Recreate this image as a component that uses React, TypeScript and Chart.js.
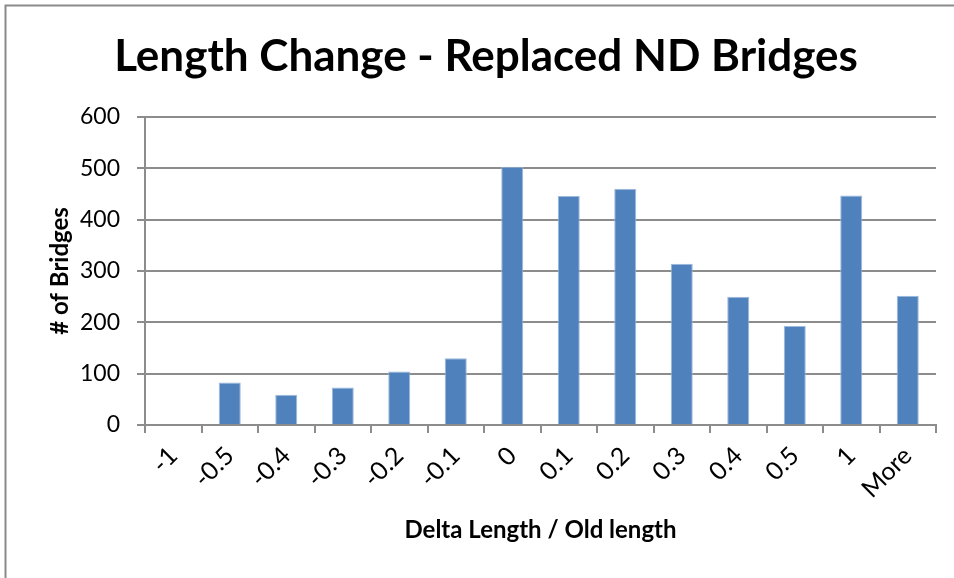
import React, { useEffect, useRef } from "react";
import { Chart, registerables } from "chart.js";

Chart.register(...registerables);

const categories = ["-1", "-0.5", "-0.4", "-0.3", "-0.2", "-0.1", "0", "0.1", "0.2", "0.3", "0.4", "0.5", "1", "More"];
const bridgeCounts = [0, 83, 59, 73, 104, 130, 503, 446, 460, 314, 250, 193, 447, 252];
const yTicks = [0, 100, 200, 300, 400, 500, 600];
const titleText = "Length Change - Replaced ND Bridges";
const xTitle = "Delta Length / Old length";
const yTitle = "# of Bridges";

const FONT = "Lato, 'Open Sans', sans-serif";
const GRID = "#8c8c8c";

const framePlugin = {
  id: "frame",
  beforeDraw(chart: any) {
    const ctx = chart.ctx;
    ctx.save();
    ctx.fillStyle = "#ffffff";
    ctx.fillRect(0, 0, chart.width, chart.height);
    ctx.strokeStyle = "#8a8a8a";
    ctx.lineWidth = 2;
    ctx.beginPath();
    ctx.moveTo(5.5, chart.height + 5);
    ctx.lineTo(5.5, 5.5);
    ctx.lineTo(chart.width + 5, 5.5);
    ctx.stroke();
    ctx.restore();
  },
};

export default function App() {
  const ref = useRef<HTMLCanvasElement>(null);
  useEffect(() => {
    document.body.style.margin = "0";
    const chart = new Chart(ref.current!, {
      type: "bar",
      data: {
        labels: categories,
        datasets: [
          {
            data: bridgeCounts,
            backgroundColor: "#4F81BD",
            borderColor: "#9DB9DC",
            borderWidth: 1,
            barPercentage: 0.39,
            categoryPercentage: 1,
          },
        ],
      },
      options: {
        responsive: false,
        animation: false,
        layout: { padding: { left: 36, right: 18, top: 0, bottom: 0 } },
        plugins: {
          legend: { display: false },
          tooltip: { enabled: false },
          title: {
            display: true,
            text: titleText,
            color: "#000",
            font: { family: FONT, size: 44, weight: "bold", lineHeight: 1.2 },
            padding: { top: 30, bottom: 34.2 },
          },
        },
        scales: {
          x: {
            afterFit: (s: any) => {
              s.height = 153;
            },
            grid: { drawOnChartArea: false, drawTicks: true, tickLength: 8, color: GRID, lineWidth: 2 },
            border: { display: true, color: GRID, width: 2 },
            ticks: {
              minRotation: 45,
              maxRotation: 45,
              autoSkip: false,
              padding: 8,
              color: "#000",
              font: { family: FONT, size: 25 },
            },
            title: {
              display: true,
              text: xTitle,
              color: "#000",
              font: { family: FONT, size: 24, weight: "bold", lineHeight: 1.2 },
              padding: { top: 0, bottom: 33 },
            },
          },
          y: {
            min: 0,
            max: 600,
            afterFit: (s: any) => {
              s.width = 109;
            },
            afterBuildTicks: (s: any) => {
              s.ticks = yTicks.map((v) => ({ value: v }));
            },
            grid: { color: GRID, lineWidth: 2, tickLength: 8, drawTicks: true },
            border: { display: true, color: GRID, width: 2 },
            ticks: {
              padding: 17,
              color: "#000",
              font: { family: FONT, size: 23 },
            },
            title: {
              display: true,
              text: yTitle,
              color: "#000",
              font: { family: FONT, size: 24, weight: "bold", lineHeight: 1.2 },
              padding: { top: 10, bottom: 0 },
            },
          },
        },
      },
      plugins: [framePlugin],
    });
    return () => chart.destroy();
  }, []);
  return (
    <div style={{ position: "fixed", left: 0, top: 0, width: 954, height: 578 }}>
      <canvas ref={ref} width={954} height={578} />
    </div>
  );
}
